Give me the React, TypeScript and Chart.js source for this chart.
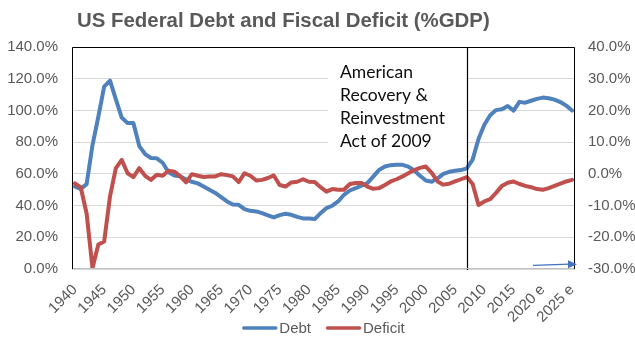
import React, { useEffect, useRef } from 'react';
import { Chart, registerables } from 'chart.js';

Chart.register(...registerables);

const chartTitle = 'US Federal Debt and Fiscal Deficit (%GDP)';

const years = [
  '1940', '1941', '1942', '1943', '1944', '1945', '1946', '1947', '1948', '1949',
  '1950', '1951', '1952', '1953', '1954', '1955', '1956', '1957', '1958', '1959',
  '1960', '1961', '1962', '1963', '1964', '1965', '1966', '1967', '1968', '1969',
  '1970', '1971', '1972', '1973', '1974', '1975', '1976', '1977', '1978', '1979',
  '1980', '1981', '1982', '1983', '1984', '1985', '1986', '1987', '1988', '1989',
  '1990', '1991', '1992', '1993', '1994', '1995', '1996', '1997', '1998', '1999',
  '2000', '2001', '2002', '2003', '2004', '2005', '2006', '2007', '2008', '2009',
  '2010', '2011', '2012', '2013', '2014', '2015', '2016', '2017', '2018', '2019',
  '2020 e', '2021 e', '2022 e', '2023 e', '2024 e', '2025 e',
];

// Gross federal debt, % of GDP (left axis)
const debt = [
  52, 50.5, 53.5, 78, 96, 115, 118.8, 107, 95.5, 92,
  92, 77.5, 72.5, 70, 69.8, 67, 61, 59, 58.5, 56.5,
  55, 54, 52, 50, 48, 45.3, 42.6, 40.7, 40.5, 37.8,
  36.7, 36.3, 35.2, 33.8, 32.5, 34, 34.8, 34.2, 32.9, 31.9,
  31.9, 31.5, 35.2, 38.4, 39.9, 42.6, 46.8, 49.5, 51, 52.5,
  54.2, 58.3, 62.5, 64.6, 65.5, 65.7, 65.7, 64.6, 62.1, 58.8,
  55.8, 55, 57.2, 60, 61.3, 61.9, 62.4, 63.5, 69, 82,
  91, 97, 100.2, 100.7, 102.8, 99.9, 105.4, 104.9, 106.1, 107.3,
  108.1, 107.7, 106.8, 105.3, 103, 100,
];

// Fiscal surplus (+) / deficit (-), % of GDP (right axis)
const deficit = [
  -3.0, -4.3, -12.5, -29.7, -22.3, -21.3, -7.1, 1.8, 4.4, 0.2,
  -1.0, 1.8, -0.6, -1.9, -0.3, -0.6, 1.0, 0.7, -0.8, -2.7,
  -0.1, -0.6, -1.0, -0.8, -0.8, -0.1, -0.4, -0.8, -2.6, 0.2,
  -0.6, -2.1, -1.9, -1.3, -0.5, -3.5, -4.0, -2.7, -2.5, -1.7,
  -2.5, -2.6, -4.2, -5.6, -4.8, -5.0, -5.0, -3.2, -2.9, -2.9,
  -4.0, -4.7, -4.5, -3.5, -2.4, -1.7, -0.8, 0.2, 1.2, 1.9,
  2.3, 0.3, -2.4, -3.4, -3.1, -2.4, -1.7, -1.0, -3.2, -9.8,
  -8.7, -8.0, -6.0, -3.8, -2.8, -2.4, -3.2, -3.8, -4.2, -4.8,
  -5.0, -4.5, -3.8, -3.1, -2.4, -1.9,
];

const leftAxis = { min: 0, max: 140, step: 20 };
const rightAxis = { min: -30, max: 40, step: 10 };

const seriesNames = ['Debt', 'Deficit'];
const seriesColors = ['#4F81BD', '#C0504D'];

const annotationYear = '2007';
const annotationLines = ['American', 'Recovery &', 'Reinvestment', 'Act of 2009'];

const FONT = '"Liberation Sans", Arial, sans-serif';
const GRAY = '#595959';

const decorPlugin = {
  id: 'decor',
  afterDatasetsDraw(chart: any) {
    const { ctx, chartArea: a, scales } = chart;
    const xs = scales.x;
    const lineX = Math.round(xs.getPixelForValue(years.indexOf(annotationYear))) + 0.5;
    ctx.save();

    // annotation text box (white fill over the gridlines)
    const boxL = a.left + 256;
    ctx.fillStyle = '#ffffff';
    ctx.fillRect(boxL, a.top + 5, lineX - 1.5 - boxL, 106);

    // fit annotation font so "Reinvestment" is ~105px
    ctx.font = '100px Lato, "Open Sans", sans-serif';
    const w100 = ctx.measureText('Reinvestment').width;
    const size = (100 * 105) / w100;
    ctx.font = `${size.toFixed(2)}px Lato, "Open Sans", sans-serif`;
    ctx.fillStyle = '#0d0d0d';
    ctx.textAlign = 'left';
    ctx.textBaseline = 'alphabetic';
    annotationLines.forEach((t, i) => {
      ctx.fillText(t, a.left + 268, a.top + 31.3 + i * 23);
    });

    // vertical marker line
    ctx.strokeStyle = '#000000';
    ctx.lineWidth = 1.2;
    ctx.beginPath();
    ctx.moveTo(lineX, a.top);
    ctx.lineTo(lineX, a.bottom + 1);
    ctx.stroke();

    // plot border: top, left, right black; bottom gray
    const L = Math.round(a.left) + 0.5;
    const R = Math.round(a.right) - 0.5;
    const T = Math.round(a.top) + 0.5;
    const B = Math.round(a.bottom) - 0.5;
    ctx.lineWidth = 1;
    ctx.strokeStyle = '#bfbfbf';
    ctx.beginPath();
    ctx.moveTo(L, B);
    ctx.lineTo(R, B);
    ctx.stroke();
    ctx.strokeStyle = '#000000';
    ctx.beginPath();
    ctx.moveTo(L, B + 0.5);
    ctx.lineTo(L, T);
    ctx.lineTo(R, T);
    ctx.lineTo(R, B + 0.5);
    ctx.stroke();

    // small blue arrow at bottom right
    const tipX = a.right + 2;
    const tipY = a.bottom - 4.8;
    ctx.strokeStyle = '#4472C4';
    ctx.fillStyle = '#4472C4';
    ctx.lineWidth = 1.3;
    ctx.beginPath();
    ctx.moveTo(a.right - 42, a.bottom - 3.6);
    ctx.lineTo(tipX - 7, tipY);
    ctx.stroke();
    ctx.beginPath();
    ctx.moveTo(tipX, tipY);
    ctx.lineTo(tipX - 9, tipY - 4);
    ctx.lineTo(tipX - 9, tipY + 4);
    ctx.closePath();
    ctx.fill();

    ctx.restore();
  },
  afterDraw(chart: any) {
    const { ctx, chartArea: a } = chart;
    ctx.save();
    // title, sized so that it spans ~413px like the reference
    ctx.font = `bold 100px ${FONT}`;
    const tw = ctx.measureText(chartTitle).width;
    const tSize = Math.min(22, (100 * 413) / tw);
    ctx.font = `bold ${tSize.toFixed(2)}px ${FONT}`;
    ctx.fillStyle = GRAY;
    ctx.textAlign = 'left';
    ctx.textBaseline = 'alphabetic';
    ctx.fillText(chartTitle, a.left + 5, 26.5);

    // legend
    ctx.font = `15px ${FONT}`;
    const lineLen = 35;
    const gapText = 2;
    const gapItem = 15;
    const widths = seriesNames.map((n) => ctx.measureText(n).width);
    const total = widths.reduce((s, w) => s + lineLen + gapText + w, 0) + gapItem * (seriesNames.length - 1);
    let x = (a.left + a.right) / 2 - total / 2;
    const cy = a.bottom + 59;
    seriesNames.forEach((n, i) => {
      ctx.strokeStyle = seriesColors[i];
      ctx.lineWidth = 3.5;
      ctx.lineCap = 'round';
      ctx.beginPath();
      ctx.moveTo(x + 1.5, cy);
      ctx.lineTo(x + lineLen - 1.5, cy);
      ctx.stroke();
      x += lineLen + gapText;
      ctx.fillStyle = GRAY;
      ctx.textBaseline = 'middle';
      ctx.fillText(n, x, cy + 0.5);
      x += widths[i] + gapItem;
    });
    ctx.restore();
  },
};

export default function App() {
  const canvasRef = useRef<HTMLCanvasElement | null>(null);

  useEffect(() => {
    const canvas = canvasRef.current;
    if (!canvas) return;
    const tickFont = { family: FONT, size: 15 };
    const chart = new Chart(canvas, {
      type: 'line',
      data: {
        labels: years,
        datasets: [
          {
            label: seriesNames[0],
            data: debt,
            yAxisID: 'y',
            borderColor: seriesColors[0],
            backgroundColor: seriesColors[0],
            borderWidth: 4,
            pointRadius: 0,
            tension: 0,
            borderJoinStyle: 'round',
            borderCapStyle: 'round',
            order: 1,
          },
          {
            label: seriesNames[1],
            data: deficit,
            yAxisID: 'y1',
            borderColor: seriesColors[1],
            backgroundColor: seriesColors[1],
            borderWidth: 4,
            pointRadius: 0,
            tension: 0,
            borderJoinStyle: 'round',
            borderCapStyle: 'round',
            order: 0,
          },
        ],
      },
      options: {
        responsive: false,
        animation: false,
        devicePixelRatio: 1,
        events: [],
        layout: { padding: { top: 47, left: 0, right: 0, bottom: 0 } },
        plugins: {
          legend: { display: false },
          title: { display: false },
          tooltip: { enabled: false },
        },
        scales: {
          x: {
            type: 'category',
            offset: true,
            grid: { display: false, drawTicks: false },
            border: { display: false },
            ticks: {
              autoSkip: false,
              minRotation: 45,
              maxRotation: 45,
              padding: 12,
              color: GRAY,
              font: tickFont,
              callback: (_v: any, i: number) => (i % 5 === 0 ? years[i] : null),
            },
            afterFit: (s: any) => {
              s.height = 68;
            },
          },
          y: {
            position: 'left',
            min: leftAxis.min,
            max: leftAxis.max,
            grid: { color: '#d9d9d9', lineWidth: 1, drawTicks: false },
            border: { display: false },
            ticks: {
              stepSize: leftAxis.step,
              padding: 14,
              color: GRAY,
              font: tickFont,
              callback: (v: any) => Number(v).toFixed(1) + '%',
            },
            afterFit: (s: any) => {
              s.width = 72;
            },
          },
          y1: {
            position: 'right',
            min: rightAxis.min,
            max: rightAxis.max,
            grid: { display: false, drawTicks: false },
            border: { display: false },
            ticks: {
              stepSize: rightAxis.step,
              padding: 13,
              color: GRAY,
              font: tickFont,
              callback: (v: any) => Number(v).toFixed(1) + '%',
            },
            afterFit: (s: any) => {
              s.width = 60;
            },
          },
        },
      } as any,
      plugins: [decorPlugin],
    });
    return () => chart.destroy();
  }, []);

  return (
    <div
      style={{
        position: 'fixed',
        left: 0,
        top: 0,
        width: 635,
        height: 337,
        background: '#ffffff',
        overflow: 'hidden',
      }}
    >
      <canvas ref={canvasRef} width={635} height={337} style={{ display: 'block' }} />
    </div>
  );
}
